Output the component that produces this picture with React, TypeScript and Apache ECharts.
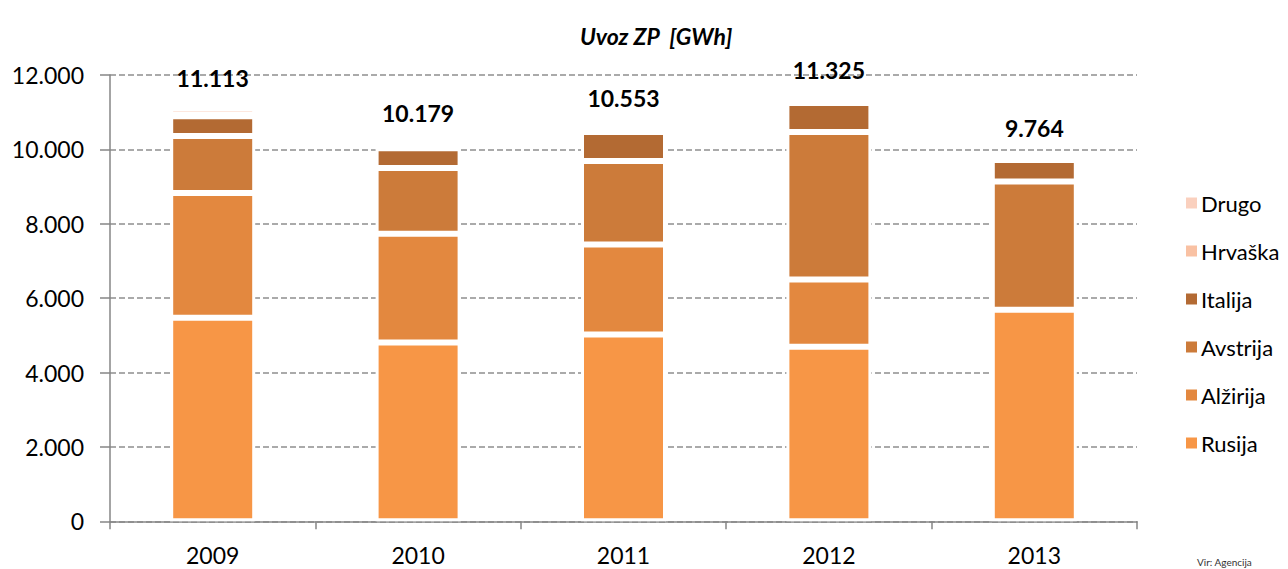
import React, { useEffect, useRef } from "react";
import * as echarts from "echarts";

const categories = ["2009", "2010", "2011", "2012", "2013"];
const rusija = [5470, 4805, 5020, 4690, 5690];
const alzirija = [3360, 2925, 2420, 1810, 0];
const avstrija = [1530, 1770, 2250, 3970, 3445];
const italija = [530, 530, 780, 775, 580];
const hrvaska = [50, 10, 50, 50, 30];
const drugo = [173, 139, 33, 30, 19];
const totals = [11113, 10179, 10553, 11325, 9764];

const seriesNames = ["Rusija", "Alžirija", "Avstrija", "Italija", "Hrvaška", "Drugo"];
const seriesData = [rusija, alzirija, avstrija, italija, hrvaska, drugo];
const seriesColors = ["#F79646", "#E3883F", "#CC7B3A", "#B36A33", "#F9C1A3", "#FAD0BE"];

const FONT = "Lato, 'Open Sans', sans-serif";

function fmt(v: number): string {
  return String(v).replace(/\B(?=(\d{3})+(?!\d))/g, ".");
}

export default function App() {
  const ref = useRef<HTMLDivElement>(null);
  useEffect(() => {
    if (!ref.current) return;
    const chart = echarts.init(ref.current, undefined, { renderer: "svg" });
    const series: any[] = seriesNames.map((name, i) => ({
      name,
      type: "bar",
      stack: "total",
      barWidth: 85,
      data: seriesData[i],
      itemStyle: { color: seriesColors[i], borderColor: "#ffffff", borderWidth: 3 },
      label:
        i === seriesNames.length - 1
          ? {
              show: true,
              position: "top",
              distance: 18,
              fontFamily: FONT,
              fontSize: 23,
              fontWeight: "bold",
              color: "#000",
              formatter: (p: any) => fmt(totals[p.dataIndex]),
            }
          : { show: false },
    }));
    chart.setOption({
      animation: false,
      backgroundColor: "#ffffff",
      textStyle: { fontFamily: FONT },
      title: {
        text: "Uvoz ZP  [GWh]",
        left: 575,
        top: 19,
        textStyle: {
          fontFamily: FONT,
          fontSize: 23,
          fontStyle: "italic",
          fontWeight: "bold",
          color: "#000",
        },
      },
      legend: {
        orient: "vertical",
        left: 1179,
        top: 187,
        itemWidth: 13,
        itemHeight: 13,
        itemGap: 26,
        icon: "rect",
        data: [...seriesNames].reverse(),
        textStyle: { fontFamily: FONT, fontSize: 22, color: "#000", lineHeight: 22, padding: [0, 0, 0, -2] },
      },
      grid: { left: 110, right: 151, top: 75, bottom: 47.7, containLabel: false },
      xAxis: {
        type: "category",
        data: categories,
        axisLine: { show: true, lineStyle: { color: "#868686", width: 1.5 } },
        axisTick: { show: true, length: 8, lineStyle: { color: "#868686", width: 1.5 } },
        axisLabel: { fontFamily: FONT, fontSize: 23, color: "#000", margin: 22 },
      },
      yAxis: {
        type: "value",
        min: 0,
        max: 12000,
        interval: 2000,
        axisLine: { show: true, lineStyle: { color: "#868686", width: 1.5 } },
        axisTick: { show: true, length: 10, lineStyle: { color: "#868686", width: 1.5 } },
        axisLabel: { fontFamily: FONT, fontSize: 23, color: "#000", margin: 26, formatter: (v: number) => fmt(v) },
        splitLine: { show: true, lineStyle: { color: "#8F8F8F", width: 1.5, type: [6, 3] } },
      },
      graphic: [
        {
          type: "text",
          left: 1197,
          top: 557,
          style: { text: "Vir: Agencija", fontFamily: FONT, fontSize: 10, fill: "#333" },
        },
      ],
      series,
    });
    return () => chart.dispose();
  }, []);
  return (
    <div
      ref={ref}
      style={{ position: "fixed", left: 0, top: 0, width: 1288, height: 569 }}
    />
  );
}
